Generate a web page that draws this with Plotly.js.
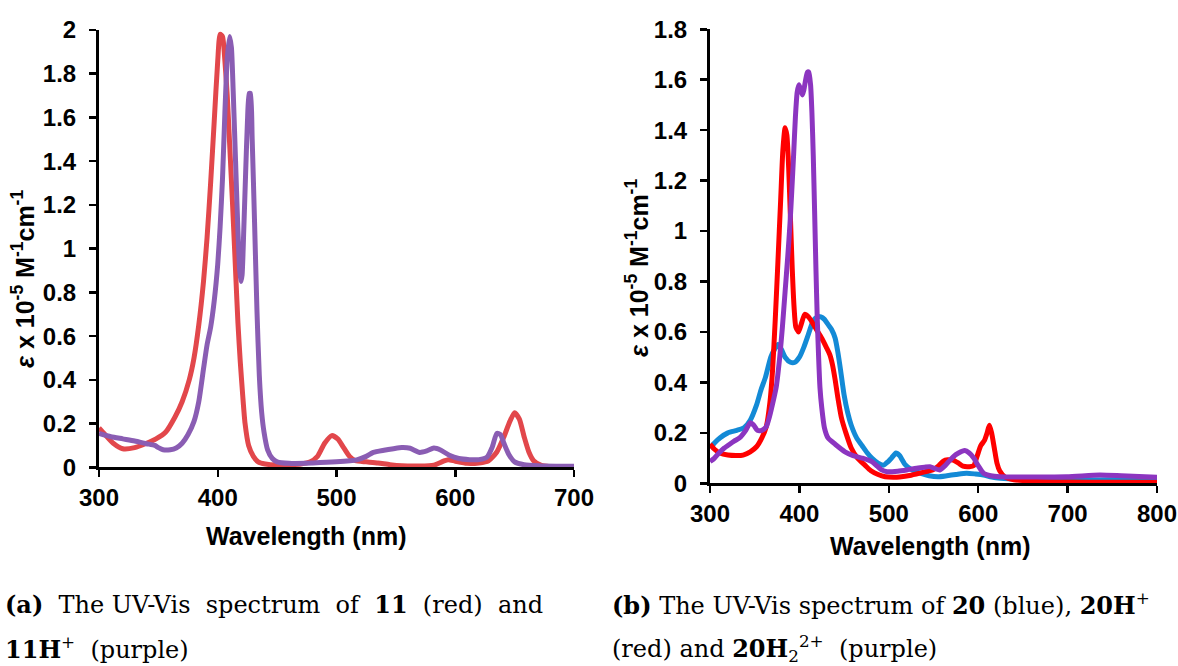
<!DOCTYPE html>
<html>
<head>
<meta charset="utf-8">
<script src="https://cdn.plot.ly/plotly-3.0.1.min.js"></script>
<style>html,body{margin:0;padding:0;background:#fff;}#chart{width:1178px;height:666px;}</style>
</head>
<body>
<div id="chart"></div>
<script>
// Panel (a): compound 11 (red) and 11H+ (purple)
const a_red_wl = [300,305,312,320,330,340,348,356,364,370,376,380,384,388,391,394,397,400,402,404,406,408,410,412.5,415,417,419,421,423,426,430,434,440,450,460,470,478,484,490,496,501,506,511,516,525,535,545,555,570,582,590,594,600,610,620,628,635,641,646,650,654,658,662,666,672,680,690,700];
const a_red_eps = [0.18,0.15,0.11,0.085,0.09,0.11,0.13,0.16,0.23,0.3,0.4,0.5,0.65,0.85,1.05,1.3,1.58,1.86,1.98,1.97,1.86,1.7,1.48,1.2,0.9,0.66,0.48,0.33,0.2,0.1,0.05,0.025,0.015,0.01,0.012,0.015,0.025,0.05,0.11,0.145,0.13,0.09,0.05,0.03,0.025,0.02,0.012,0.007,0.006,0.01,0.028,0.035,0.028,0.018,0.02,0.03,0.07,0.14,0.21,0.25,0.22,0.14,0.07,0.03,0.01,0.003,0.002,0.002];
const a_pur_wl = [300,310,320,330,340,347,350,354,360,365,370,375,380,384,388,391,394,397,400,402,404,406,408,410,411.5,413,415,417,418.5,419.5,420.5,422,423.5,425,426.5,427.5,429,431,433,435,437,439,442,446,450,460,480,500,517,525,531,540,548,555,562,570,576,582,588,595,603,612,620,627,631,635,638,641,645,650,658,670,685,700];
const a_pur_eps = [0.155,0.14,0.13,0.12,0.108,0.1,0.09,0.08,0.08,0.088,0.11,0.15,0.21,0.3,0.45,0.56,0.64,0.76,0.93,1.1,1.32,1.62,1.87,1.97,1.92,1.72,1.4,1.08,0.9,0.85,0.88,1.1,1.35,1.58,1.71,1.71,1.5,1.12,0.72,0.42,0.25,0.16,0.08,0.04,0.025,0.018,0.02,0.025,0.034,0.05,0.068,0.078,0.085,0.09,0.087,0.068,0.075,0.088,0.078,0.055,0.04,0.035,0.035,0.048,0.09,0.155,0.15,0.11,0.06,0.025,0.012,0.007,0.005,0.005];

// Panel (b): compound 20 (blue), 20H+ (red), 20H2 2+ (purple)
const b_blue_wl = [300,305,311,320,330,338,345,352,357,362,368,372,376,380,384,390,395,400,405,410,415,420,424,428,432,436,440,443,446,450,454,458,464,470,476,481,488,494,499,503,508,512,518,525,535,545,555,565,575,587,597,606,615,625,650,700,750,800];
const b_blue_eps = [0.14,0.16,0.18,0.2,0.21,0.22,0.25,0.31,0.37,0.42,0.5,0.53,0.55,0.53,0.5,0.48,0.48,0.5,0.54,0.59,0.64,0.66,0.66,0.65,0.63,0.61,0.575,0.52,0.45,0.35,0.28,0.23,0.18,0.15,0.12,0.1,0.08,0.072,0.085,0.1,0.12,0.11,0.075,0.055,0.04,0.03,0.026,0.03,0.035,0.04,0.037,0.033,0.025,0.02,0.015,0.013,0.014,0.013];
const b_red_wl = [300,305,311,320,330,337,345,352,358,363,367,370,373,376,379,381.5,384,386,388,390,392,394,396,399,402,406,410,414,419,425,430,434,437,440,443,447,452,458,465,473,480,488,496,505,512,525,540,550,556,561,566,572,578,583,590,595,599,603,607,610,612.5,615,618,621,624,630,640,660,700,750,800];
const b_red_eps = [0.155,0.135,0.12,0.112,0.11,0.112,0.125,0.145,0.18,0.225,0.32,0.45,0.65,0.88,1.12,1.32,1.41,1.38,1.25,1.05,0.85,0.7,0.62,0.6,0.63,0.67,0.66,0.64,0.61,0.575,0.54,0.51,0.47,0.41,0.34,0.26,0.2,0.14,0.1,0.073,0.05,0.035,0.026,0.024,0.025,0.032,0.045,0.055,0.07,0.088,0.093,0.092,0.08,0.068,0.066,0.07,0.11,0.15,0.17,0.2,0.23,0.2,0.14,0.08,0.05,0.025,0.014,0.008,0.005,0.004,0.004];
const b_pur_wl = [300,305,310,316,322,327,333,340,345,349,353,358,363,367,371,374,378,381,384,387,389.5,391.5,393.5,395.5,397.5,399.5,401.5,403.3,405,407,409,410.5,412.5,414,415.5,417,418.5,420,421.5,423,425,428,432,440,451,460,470,481,487,492,498,510,520,531,540,546,552,557,563,568,572,578,585,590,595,600,606,614,624,650,699,736,760,800];
const b_pur_eps = [0.086,0.1,0.12,0.14,0.155,0.167,0.18,0.21,0.24,0.23,0.21,0.21,0.225,0.27,0.33,0.38,0.5,0.62,0.76,0.9,1.03,1.16,1.3,1.45,1.55,1.58,1.56,1.54,1.56,1.6,1.63,1.63,1.58,1.47,1.3,1.08,0.85,0.65,0.5,0.38,0.3,0.22,0.18,0.155,0.125,0.11,0.1,0.086,0.068,0.053,0.046,0.048,0.053,0.06,0.064,0.066,0.058,0.053,0.07,0.09,0.105,0.12,0.13,0.12,0.1,0.07,0.04,0.03,0.026,0.025,0.026,0.033,0.03,0.024];

const a_xticks = [300,400,500,600,700];
const b_xticks = [300,400,500,600,700,800];

const W = 1178, H = 666;
const tickFont = {family: 'Liberation Sans, Arial, sans-serif', size: 24, color: '#000', weight: 'bold'};
const boldAxisFont = {family: 'Liberation Sans, Arial, sans-serif', size: 25, color: '#000'};
const capFont = {family: 'DejaVu Serif, Liberation Serif, serif', size: 24, color: '#000'};
const S = '\u00A0';

function line(x, y, color, xa, ya) {
  return {x: x, y: y, type: 'scatter', mode: 'lines', xaxis: xa, yaxis: ya,
          line: {color: color, width: 5, shape: 'spline', smoothing: 0.6}, hoverinfo: 'skip', showlegend: false};
}

const data = [
  line(a_red_wl, a_red_eps, '#e2474b', 'x', 'y'),
  line(a_pur_wl, a_pur_eps, '#8a5db3', 'x', 'y'),
  line(b_blue_wl, b_blue_eps, '#138ad6', 'x2', 'y2'),
  line(b_red_wl, b_red_eps, '#ff0000', 'x2', 'y2'),
  line(b_pur_wl, b_pur_eps, '#8c35c0', 'x2', 'y2')
];

function xax(domain, range, ticks) {
  return {domain: domain, range: range, tickvals: ticks, ticktext: ticks.map(String),
    showline: true, linewidth: 3, linecolor: '#000', ticks: 'outside', ticklen: 7, tickwidth: 2.5, tickcolor: '#000',
    showgrid: false, zeroline: false, tickfont: tickFont, fixedrange: true};
}
function yax(domain, range, anchor) {
  return {domain: domain, range: range, dtick: 0.2, tick0: 0, anchor: anchor,
    showline: true, linewidth: 3, linecolor: '#000', ticks: 'outside', ticklen: 7, tickwidth: 2.5, tickcolor: '#000',
    ticklabelstandoff: 8,
    showgrid: false, zeroline: false, tickfont: tickFont, fixedrange: true};
}

const yTitle = '<i>ε</i> x 10<sup>-5</sup> M<sup>-1</sup>cm<sup>-1</sup>';

const layout = {
  width: W, height: H,
  margin: {l: 0, r: 0, t: 0, b: 0},
  paper_bgcolor: '#fff', plot_bgcolor: '#fff',
  xaxis: Object.assign(xax([99/W, 574/W], [300, 700], a_xticks), {anchor: 'y'}),
  yaxis: yax([(H-467.3)/H, (H-30)/H], [0, 2], 'x'),
  xaxis2: Object.assign(xax([710/W, 1157/W], [300, 800], b_xticks), {anchor: 'y2'}),
  yaxis2: yax([(H-483.3)/H, (H-29.3)/H], [0, 1.8], 'x2'),
  annotations: [
    {text: '<b>Wavelength (nm)</b>', xref: 'paper', yref: 'paper', x: 306/W, y: (H-536)/H, xanchor: 'center', yanchor: 'middle', showarrow: false, font: boldAxisFont},
    {text: '<b>Wavelength (nm)</b>', xref: 'paper', yref: 'paper', x: 930/W, y: (H-546)/H, xanchor: 'center', yanchor: 'middle', showarrow: false, font: boldAxisFont},
    {text: '<b>' + yTitle + '</b>', xref: 'paper', yref: 'paper', x: 23/W, y: (H-279)/H, xanchor: 'center', yanchor: 'middle', textangle: -90, showarrow: false, font: boldAxisFont},
    {text: '<b>' + yTitle + '</b>', xref: 'paper', yref: 'paper', x: 637/W, y: (H-268)/H, xanchor: 'center', yanchor: 'middle', textangle: -90, showarrow: false, font: boldAxisFont},
    {text: '<b>(a)</b>' + S + ' The UV-Vis' + S + ' spectrum' + S + ' of' + S + ' <b>11</b>' + S + ' (red)' + S + ' and', xref: 'paper', yref: 'paper', x: 3/W, y: (H-604)/H, xanchor: 'left', yanchor: 'middle', showarrow: false, font: capFont},
    {text: '<b>11H</b><sup>+</sup>' + S + ' (purple)', xref: 'paper', yref: 'paper', x: 3/W, y: (H-648)/H, xanchor: 'left', yanchor: 'middle', showarrow: false, font: capFont},
    {text: '<b>(b)</b> The UV-Vis spectrum of <b>20</b> (blue), <b>20H</b><sup>+</sup>', xref: 'paper', yref: 'paper', x: 610/W, y: (H-604)/H, xanchor: 'left', yanchor: 'middle', showarrow: false, font: capFont},
    {text: '(red) and <b>20H</b><sub>2</sub><sup>2+</sup>' + S + ' (purple)', xref: 'paper', yref: 'paper', x: 610/W, y: (H-648)/H, xanchor: 'left', yanchor: 'middle', showarrow: false, font: capFont}
  ]
};

Plotly.newPlot('chart', data, layout, {staticPlot: true, displayModeBar: false});
</script>
</body>
</html>
